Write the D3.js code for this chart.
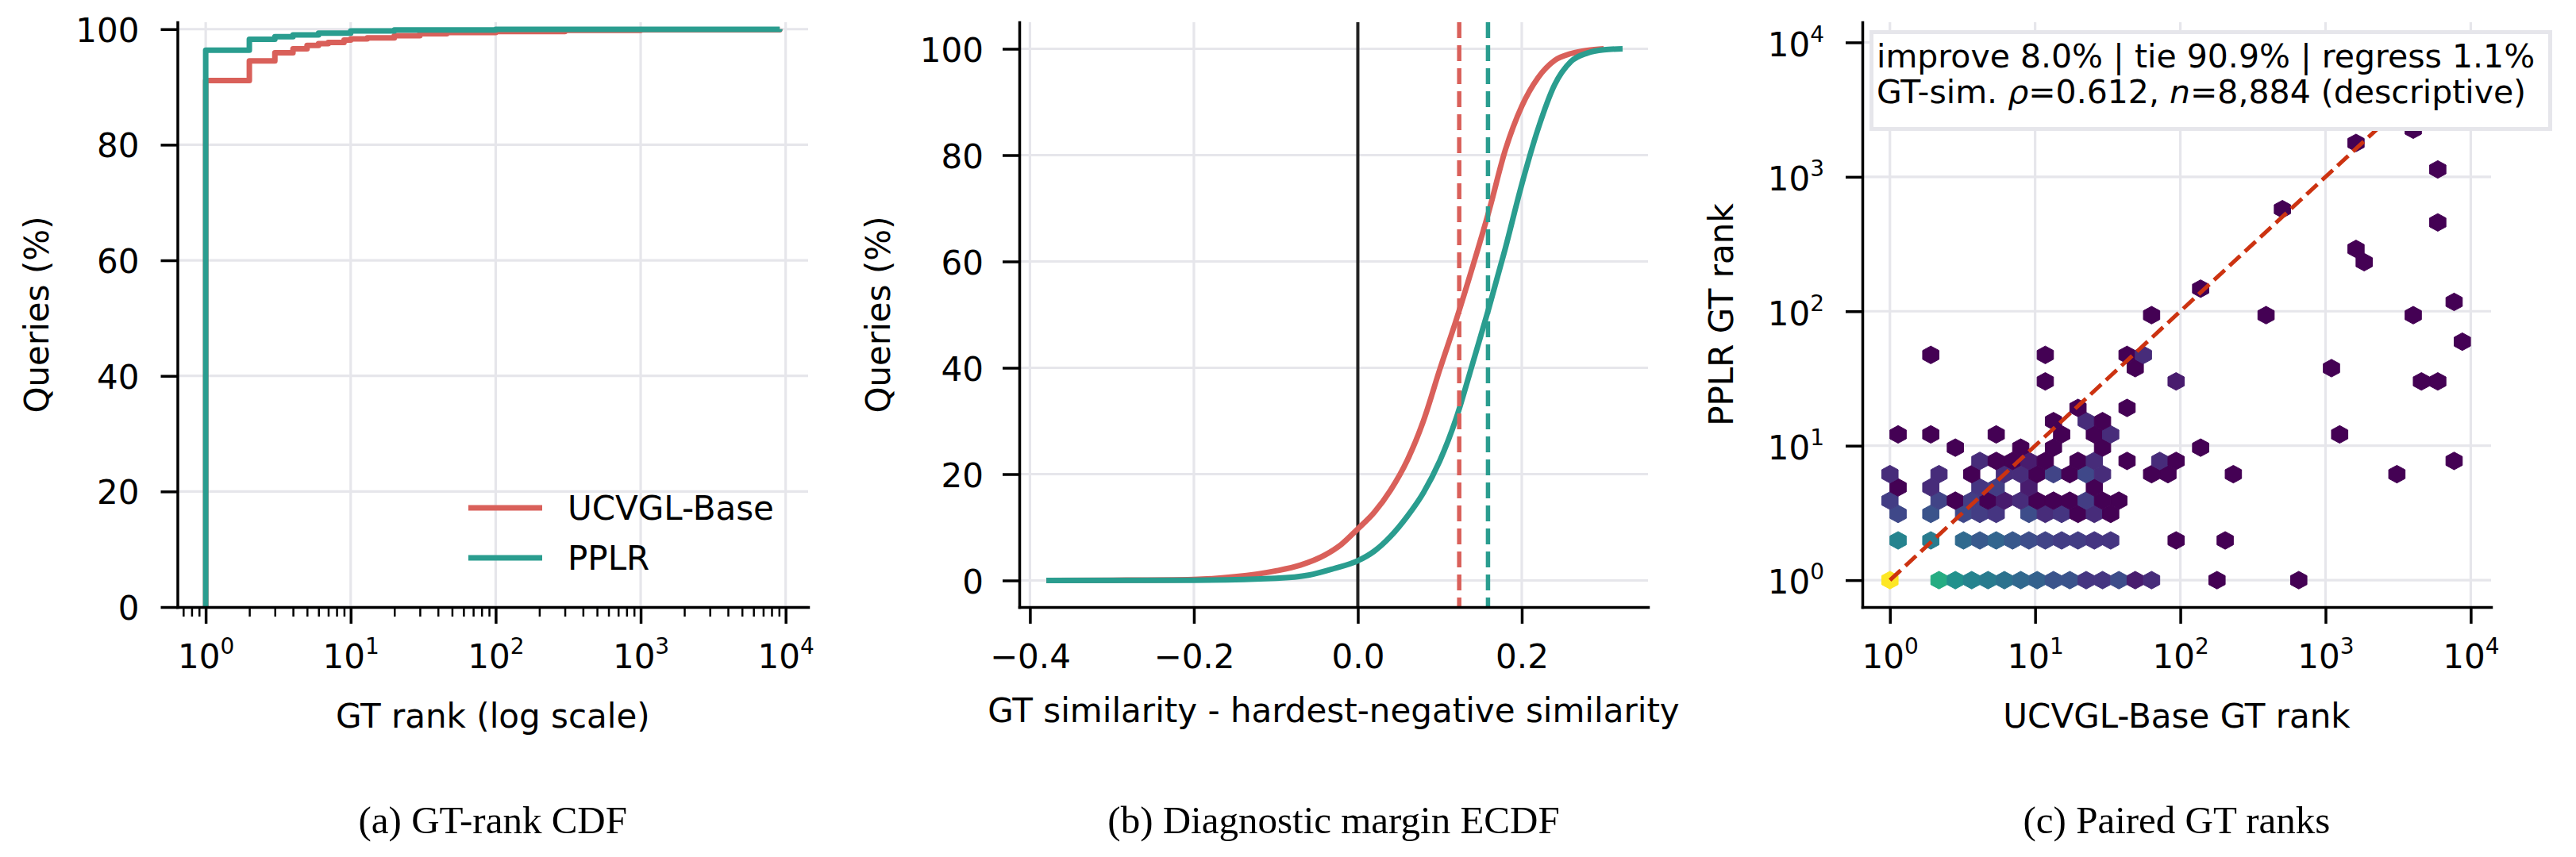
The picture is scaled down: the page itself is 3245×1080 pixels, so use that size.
<!DOCTYPE html>
<html>
<head>
<meta charset="utf-8">
<script src="https://cdn.jsdelivr.net/npm/d3@7"></script>
<style>
  body { margin: 0; background: #fff; }
  text { font-family: "DejaVu Sans", sans-serif; }
</style>
</head>
<body>
<div id="chart"></div>
<script>
// ---- values ----
var seriesNames = ["UCVGL-Base", "PPLR"];
var seriesColors = ["#d9605a", "#2a9d8f"];

// (a) GT-rank CDF : rank r -> % of queries with GT rank <= r
var rankBase = [1, 2, 3, 4, 5, 6, 7, 9, 10, 13, 20, 30, 46, 100, 300, 1000, 9100];
var cdfBase  = [91.1, 94.5, 95.9, 96.6, 97.2, 97.5, 97.7, 98.1, 98.3, 98.5, 98.85, 99.2, 99.4, 99.6, 99.8, 99.9, 100];
var rankPplr = [1, 2, 3, 4, 6, 10, 20, 100, 9100];
var cdfPplr  = [96.35, 98.25, 98.7, 99.0, 99.3, 99.7, 99.87, 99.95, 100];

// (b) diagnostic margin ECDF
var marginBase = [-0.38, -0.30, -0.20, -0.15, -0.10, -0.07, -0.04, -0.02, 0.00, 0.02, 0.04, 0.06,
                  0.08, 0.10, 0.12, 0.14, 0.16, 0.18, 0.20, 0.22, 0.24, 0.26, 0.28, 0.30];
var ecdfBase   = [0, 0.05, 0.2, 0.7, 1.8, 2.9, 4.8, 6.8, 9.7, 12.8, 17.0, 22.5,
                  30.0, 39.7, 49.0, 59.0, 69.5, 81.0, 89.2, 94.6, 97.8, 99.1, 99.7, 100];
var marginPplr = [-0.38, -0.20, -0.10, -0.06, -0.03, 0.00, 0.02, 0.04, 0.06, 0.08, 0.10,
                  0.12, 0.14, 0.16, 0.18, 0.20, 0.22, 0.24, 0.26, 0.28, 0.30, 0.323];
var ecdfPplr   = [0, 0.05, 0.4, 1.0, 2.2, 3.7, 5.5, 8.3, 12.0, 16.5, 22.5,
                  30.5, 40.8, 51.3, 62.5, 74.5, 85.0, 93.2, 97.6, 99.2, 99.8, 100];
var medianMargin = [0.1237, 0.1588];

// (c) paired GT ranks, hexbin in log-log space
var hexGridsize = 35;
var hexRankMax = 8750;
// [column, half-row, count]
var hexCells = [
  [0,0,8050],[3,0,250],[4,0,90],[5,0,55],[6,0,40],[7,0,30],[8,0,20],[9,0,16],[10,0,10],[11,0,10],
  [12,0,4],[13,0,4],[14,0,8],[15,0,2],[16,0,3],[20,0,1],[25,0,1],
  [0,3,55],[2,3,40],[4,3,22],[5,3,12],[6,3,18],[7,3,12],[8,3,8],[9,3,6],[10,3,5],[11,3,5],
  [12,3,4],[13,3,4],[17,3,1],[20,3,1],
  [0,5,7],[2,5,10],[4,5,7],[5,5,5],[6,5,4],[8,5,8],[9,5,3],[10,5,4],[11,5,1],[12,5,3],[13,5,1],
  [0,6,5],[3,6,6],[4,6,1],[5,6,5],[6,6,1],[7,6,2],[8,6,3],[9,6,1],[10,6,1],[11,6,1],[12,6,5],[13,6,1],[14,6,1],
  [0,7,1],[2,7,3],[5,7,4],[6,7,5],[8,7,2],[12,7,1],
  [0,8,3],[3,8,3],[5,8,1],[7,8,3],[8,8,3],[9,8,1],[10,8,6],[11,8,1],[12,8,7],[13,8,3],
  [16,8,1],[17,8,1],[21,8,1],[31,8,1],
  [5,9,3],[6,9,1],[7,9,1],[8,9,2],[9,9,1],[11,9,1],[12,9,3],[14,9,1],[16,9,3],[17,9,1],[34,9,1],
  [4,10,1],[8,10,1],[10,10,1],[13,10,1],[19,10,1],
  [0,11,1],[2,11,1],[6,11,1],[10,11,1],[12,11,1],[13,11,3],[27,11,1],
  [10,12,1],[12,12,3],[13,12,1],
  [11,13,1],[14,13,1],
  [9,15,1],[17,15,2],[32,15,1],[33,15,1],
  [15,16,1],[27,16,1],
  [2,17,1],[9,17,1],[14,17,1],[15,17,3],
  [35,18,1],
  [16,20,1],[23,20,1],[32,20,1],
  [34,21,1],[19,22,1],[29,24,1],[28,25,1],[33,27,1],[24,28,1],[33,31,1],[28,33,1],[32,34,1]
];
var outcomePct = [8.0, 90.9, 1.1];   // improve, tie, regress
var gtSimRho = 0.612;
var nQueries = 8884;

var pctTicks = [0, 20, 40, 60, 80, 100];
var decadeTicks = [1, 10, 100, 1000, 10000];
var marginTicks = [-0.4, -0.2, 0.0, 0.2];
var minorRankTicks = [0.7, 0.8, 0.9];
[1, 10, 100, 1000].forEach(function(p) {
  for (var k = 2; k <= 9; k++) minorRankTicks.push(k * p);
});

var axisLabels = ["GT rank (log scale)", "GT similarity - hardest-negative similarity", "UCVGL-Base GT rank"];
var yLabels = ["Queries (%)", "Queries (%)", "PPLR GT rank"];
var captions = ["(a) GT-rank CDF", "(b) Diagnostic margin ECDF", "(c) Paired GT ranks"];

// ---- layout ----
var W = 3245, H = 1080;
var TOP = 28, BOTTOM = 765;
var FS = 42;
var gridColor = "#e6e6eb";
var panels = [
  { left: 223.5, right: 1018 },
  { left: 1284, right: 2076 },
  { left: 2346, right: 3138 }
];

var svg = d3.select("#chart")
  .append("svg")
  .attr("width", W)
  .attr("height", H)
  .style("display", "block")
  .style("background", "#fff");

// scales
var xA = d3.scaleLog().domain([Math.pow(10, -0.195), Math.pow(10, 4.155)]).range([panels[0].left, panels[0].right]);
var yA = d3.scaleLinear().domain([0, 101.2]).range([BOTTOM, TOP]);
var xB = d3.scaleLinear().domain([-0.413, 0.354]).range([panels[1].left, panels[1].right]);
var yB = d3.scaleLinear().domain([-5, 105]).range([BOTTOM, TOP]);
var xC = d3.scaleLog().domain([Math.pow(10, -0.19), Math.pow(10, 4.14)]).range([panels[2].left, panels[2].right]);
var yC = d3.scaleLog().domain([Math.pow(10, -0.2), Math.pow(10, 4.15)]).range([BOTTOM, TOP]);

// clip paths
var defs = svg.append("defs");
panels.forEach(function(p, i) {
  defs.append("clipPath").attr("id", "clip" + i)
    .append("rect")
    .attr("x", p.left).attr("y", TOP)
    .attr("width", p.right - p.left).attr("height", BOTTOM - TOP);
});

function grid(g, xs, ys, xScale, yScale, p) {
  g.selectAll(".gx").data(xs).enter().append("line")
    .attr("x1", function(d) { return xScale(d); })
    .attr("x2", function(d) { return xScale(d); })
    .attr("y1", TOP).attr("y2", BOTTOM)
    .attr("stroke", gridColor).attr("stroke-width", 3.2);
  g.selectAll(".gy").data(ys).enter().append("line")
    .attr("y1", function(d) { return yScale(d); })
    .attr("y2", function(d) { return yScale(d); })
    .attr("x1", p.left).attr("x2", p.right)
    .attr("stroke", gridColor).attr("stroke-width", 3.2);
}

function styleAxis(g, w) {
  g.attr("font-family", null).attr("font-size", null);
  g.select(".domain").attr("stroke", "#000").attr("stroke-width", 3.5).attr("stroke-linecap", "square");
  g.selectAll(".tick line").attr("stroke", "#000").attr("stroke-width", w);
  g.selectAll(".tick text").attr("font-family", "DejaVu Sans").attr("font-size", FS).attr("fill", "#000");
}

function powLabels(g) {
  g.selectAll(".tick text").text("").each(function(d) {
    var t = d3.select(this);
    t.append("tspan").text("10");
    t.append("tspan").attr("font-size", 28).attr("dy", -18).text(Math.round(Math.log10(d)));
  });
}

// ======== (a) GT-rank CDF ========
var gA = svg.append("g");
grid(gA, decadeTicks, pctTicks, xA, yA, panels[0]);

var stepLine = d3.line()
  .x(function(d) { return xA(d[0]); })
  .y(function(d) { return yA(d[1]); })
  .curve(d3.curveStepAfter);

[[rankBase, cdfBase], [rankPplr, cdfPplr]].forEach(function(s, k) {
  var pts = [[s[0][0], 0]].concat(s[0].map(function(r, i) { return [r, s[1][i]]; }));
  gA.append("path")
    .datum(pts)
    .attr("clip-path", "url(#clip0)")
    .attr("d", stepLine)
    .attr("fill", "none")
    .attr("stroke", seriesColors[k])
    .attr("stroke-width", 7)
    .attr("stroke-linejoin", "round");
});

// legend
var legend = gA.selectAll(".legend")
  .data(seriesNames)
  .enter().append("g")
  .attr("class", "legend")
  .attr("transform", function(d, i) { return "translate(590," + (640 + i * 63) + ")"; });
legend.append("line")
  .attr("x1", 0).attr("x2", 93)
  .attr("stroke", function(d, i) { return seriesColors[i]; })
  .attr("stroke-width", 7);
legend.append("text")
  .attr("x", 125).attr("y", 15)
  .attr("font-size", FS)
  .text(function(d) { return d; });

var axA = gA.append("g").attr("transform", "translate(0," + BOTTOM + ")")
  .call(d3.axisBottom(xA).tickValues(minorRankTicks).tickSize(12).tickSizeOuter(0).tickFormat(""));
styleAxis(axA, 2.5);
axA.select(".domain").remove();
var axA2 = gA.append("g").attr("transform", "translate(0," + BOTTOM + ")")
  .call(d3.axisBottom(xA).tickValues(decadeTicks).tickSize(21).tickPadding(26).tickSizeOuter(0));
styleAxis(axA2, 3.5);
powLabels(axA2);
var ayA = gA.append("g").attr("transform", "translate(" + panels[0].left + ",0)")
  .call(d3.axisLeft(yA).tickValues(pctTicks).tickSize(21).tickPadding(27).tickSizeOuter(0).tickFormat(d3.format("d")));
styleAxis(ayA, 3.5);
ayA.selectAll(".tick text").attr("dy", "0.37em");

// ======== (b) margin ECDF ========
var gB = svg.append("g");
grid(gB, marginTicks, pctTicks, xB, yB, panels[1]);

gB.append("line")
  .attr("x1", xB(0)).attr("x2", xB(0))
  .attr("y1", TOP).attr("y2", BOTTOM)
  .attr("stroke", "#222").attr("stroke-width", 4);

var smooth = d3.line()
  .x(function(d) { return xB(d[0]); })
  .y(function(d) { return yB(d[1]); })
  .curve(d3.curveMonotoneX);

[[marginBase, ecdfBase], [marginPplr, ecdfPplr]].forEach(function(s, k) {
  gB.append("path")
    .datum(s[0].map(function(m, i) { return [m, s[1][i]]; }))
    .attr("clip-path", "url(#clip1)")
    .attr("d", smooth)
    .attr("fill", "none")
    .attr("stroke", seriesColors[k])
    .attr("stroke-width", 7)
    .attr("stroke-linejoin", "round");
});

gB.selectAll(".median")
  .data(medianMargin)
  .enter().append("line")
  .attr("x1", function(d) { return xB(d); })
  .attr("x2", function(d) { return xB(d); })
  .attr("y1", TOP).attr("y2", BOTTOM)
  .attr("stroke", function(d, i) { return seriesColors[i]; })
  .attr("stroke-width", 5.5)
  .attr("stroke-dasharray", "20,9");

var axB = gB.append("g").attr("transform", "translate(0," + BOTTOM + ")")
  .call(d3.axisBottom(xB).tickValues(marginTicks).tickSize(21).tickPadding(26).tickSizeOuter(0).tickFormat(d3.format(".1f")));
styleAxis(axB, 3.5);
var ayB = gB.append("g").attr("transform", "translate(" + panels[1].left + ",0)")
  .call(d3.axisLeft(yB).tickValues(pctTicks).tickSize(21).tickPadding(24).tickSizeOuter(0).tickFormat(d3.format("d")));
styleAxis(ayB, 3.5);
ayB.selectAll(".tick text").attr("dy", "0.37em");

// ======== (c) paired ranks hexbin ========
var gC = svg.append("g");
grid(gC, decadeTicks, decadeTicks, xC, yC, panels[2]);

var logMax = Math.log10(hexRankMax);
var sx = logMax / hexGridsize;
var sy = logMax / Math.floor(hexGridsize / Math.sqrt(3));
var hexCorners = [[0.5, -0.5], [0.5, 0.5], [0, 1], [-0.5, 0.5], [-0.5, -0.5], [0, -1]];
var hexColor = d3.scaleSequentialLog(d3.interpolateViridis)
  .domain([1, d3.max(hexCells, function(d) { return d[2]; })]);

function hexPath(d) {
  var cx = (d[1] % 2 === 0 ? d[0] : d[0] + 0.5) * sx;
  var cy = d[1] * sy / 2;
  return "M" + hexCorners.map(function(c) {
    return xC(Math.pow(10, cx + c[0] * sx)) + "," + yC(Math.pow(10, cy + c[1] * sy / 3));
  }).join("L") + "Z";
}

gC.selectAll(".hex")
  .data(hexCells)
  .enter().append("path")
  .attr("class", "hex")
  .attr("d", hexPath)
  .attr("fill", function(d) { return hexColor(d[2]); })
  .attr("stroke", function(d) { return hexColor(d[2]); })
  .attr("stroke-width", 1);

gC.append("line")
  .attr("clip-path", "url(#clip2)")
  .attr("x1", xC(1)).attr("y1", yC(1))
  .attr("x2", xC(hexRankMax)).attr("y2", yC(hexRankMax))
  .attr("stroke", "#cc3311")
  .attr("stroke-width", 5)
  .attr("stroke-dasharray", "18.5,8");

// stats box
var box = gC.append("g");
box.append("rect")
  .attr("x", 2357.5).attr("y", 40.5)
  .attr("width", 855).attr("height", 122)
  .attr("fill", "#fff")
  .attr("stroke", gridColor)
  .attr("stroke-width", 5);
box.append("text")
  .attr("x", 2364).attr("y", 85)
  .attr("font-size", 41)
  .text("improve " + outcomePct[0].toFixed(1) + "% | tie " + outcomePct[1].toFixed(1) +
        "% | regress " + outcomePct[2].toFixed(1) + "%");
var line2 = box.append("text")
  .attr("x", 2364).attr("y", 130)
  .attr("font-size", 41);
line2.append("tspan").text("GT-sim. ");
line2.append("tspan").attr("font-style", "italic").text("\u03c1");
line2.append("tspan").text("=" + gtSimRho.toFixed(3) + ", ");
line2.append("tspan").attr("font-style", "italic").text("n");
line2.append("tspan").text("=" + d3.format(",")(nQueries) + " (descriptive)");

var axC = gC.append("g").attr("transform", "translate(0," + BOTTOM + ")")
  .call(d3.axisBottom(xC).tickValues(decadeTicks).tickSize(21).tickPadding(26).tickSizeOuter(0));
styleAxis(axC, 3.5);
powLabels(axC);
var ayC = gC.append("g").attr("transform", "translate(" + panels[2].left + ",0)")
  .call(d3.axisLeft(yC).tickValues(decadeTicks).tickSize(21).tickPadding(27).tickSizeOuter(0));
styleAxis(ayC, 3.5);
powLabels(ayC);
ayC.selectAll(".tick text").attr("dy", "0.4em");

// ---- axis labels and captions ----
var xLabelY = [917, 910, 917];
panels.forEach(function(p, i) {
  var cx = (p.left + p.right) / 2;
  svg.append("text")
    .attr("x", cx).attr("y", xLabelY[i])
    .attr("text-anchor", "middle")
    .attr("font-size", FS)
    .text(axisLabels[i]);
  svg.append("text")
    .attr("transform", "translate(" + (p.left - 163) + "," + ((TOP + BOTTOM) / 2) + ") rotate(-90)")
    .attr("text-anchor", "middle")
    .attr("font-size", FS)
    .text(yLabels[i]);
  svg.append("text")
    .attr("x", cx).attr("y", 1050)
    .attr("text-anchor", "middle")
    .style("font-family", "'Liberation Serif', 'Times New Roman', serif")
    .attr("font-size", 49)
    .text(captions[i]);
});
</script>
</body>
</html>
